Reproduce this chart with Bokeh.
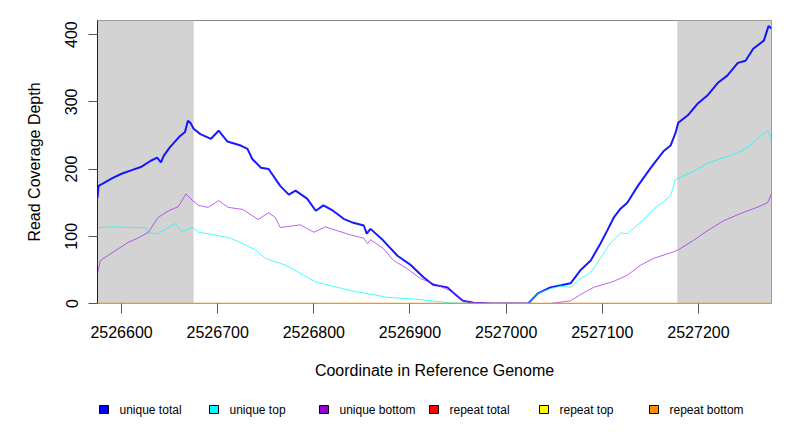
from bokeh.plotting import figure
from bokeh.layouts import column
from bokeh.models import Range1d, BoxAnnotation, FixedTicker, BasicTickFormatter, ColumnDataSource
from bokeh.core.properties import value
from bokeh.embed import file_html
from bokeh.resources import INLINE

# ---- data ----
total_pos = [2526575, 2526576, 2526580, 2526590, 2526600, 2526610, 2526620, 2526630, 2526637, 2526641,
             2526644, 2526650, 2526660, 2526666, 2526669, 2526672, 2526675, 2526682, 2526693, 2526701,
             2526710, 2526724, 2526731, 2526736, 2526745, 2526753, 2526765, 2526774, 2526781, 2526793,
             2526802, 2526810, 2526820, 2526831, 2526841, 2526852, 2526855, 2526859, 2526872, 2526887,
             2526901, 2526914, 2526924, 2526939, 2526945, 2526955, 2526966, 2526984, 2527023, 2527033,
             2527046, 2527057, 2527067, 2527077, 2527088, 2527098, 2527105, 2527112, 2527119, 2527126,
             2527137, 2527150, 2527164, 2527171, 2527176, 2527179, 2527189, 2527199, 2527209, 2527220,
             2527230, 2527241, 2527249, 2527257, 2527268, 2527273, 2527276]
total_depth = [157, 175, 178, 186, 193, 198, 203, 212, 217, 210,
               220, 232, 248, 255, 272, 268, 260, 252, 245, 257,
               241, 235, 230, 215, 202, 200, 175, 162, 168, 156,
               138, 146, 138, 126, 120, 116, 104, 111, 94, 71,
               57, 39, 28, 24, 16, 4, 1, 0, 0, 15,
               24, 27, 30, 49, 64, 89, 108, 128, 141, 150,
               175, 201, 227, 235, 253, 269, 280, 297, 309, 328,
               339, 358, 361, 379, 391, 413, 409]

top_pos = [2526575, 2526576, 2526594, 2526607, 2526625, 2526628, 2526638, 2526656, 2526663, 2526674,
           2526680, 2526698, 2526711, 2526722, 2526739, 2526750, 2526760, 2526771, 2526786, 2526802,
           2526825, 2526838, 2526859, 2526877, 2526901, 2526929, 2526942, 2526970, 2527001, 2527023,
           2527033, 2527046, 2527057, 2527067, 2527077, 2527088, 2527098, 2527108, 2527119, 2527126,
           2527140, 2527153, 2527164, 2527171, 2527176, 2527189, 2527199, 2527209, 2527220, 2527233,
           2527241, 2527251, 2527261, 2527272, 2527276]
top_depth = [113, 113, 114, 113, 113, 105, 104, 119, 107, 113,
             106, 102, 98, 92, 80, 67, 62, 57, 45, 32,
             24, 19, 14, 9, 7, 3, 1, 0, 0, 0,
             15, 22, 26, 24, 37, 46, 67, 89, 105, 104,
             121, 140, 152, 160, 184, 193, 200, 208, 214, 220,
             224, 232, 245, 257, 245]

bottom_pos = [2526575, 2526578, 2526594, 2526607, 2526618, 2526628, 2526638, 2526649, 2526659, 2526667,
              2526674, 2526680, 2526690, 2526701, 2526711, 2526726, 2526742, 2526753, 2526760, 2526765,
              2526786, 2526800, 2526812, 2526825, 2526838, 2526852, 2526856, 2526859, 2526872, 2526883,
              2526897, 2526911, 2526929, 2526942, 2526955, 2526966, 2526984, 2527046, 2527067, 2527077,
              2527091, 2527112, 2527126, 2527140, 2527153, 2527168, 2527178, 2527195, 2527209, 2527226,
              2527244, 2527261, 2527272, 2527276]
bottom_depth = [45, 64, 79, 91, 98, 106, 128, 138, 144, 163,
                153, 146, 143, 153, 143, 140, 125, 135, 128, 113,
                117, 106, 114, 108, 102, 97, 89, 95, 82, 64,
                52, 37, 27, 19, 4, 1, 0, 0, 4, 13,
                24, 33, 42, 57, 67, 74, 79, 94, 108, 123,
                134, 143, 150, 163]

repeat_pos = [2526575, 2527276]
repeat_total = [0, 0]
repeat_top = [0, 0]
repeat_bottom = [0, 0]

shade_left = [2526575, 2527178]
shade_right = [2526675, 2527276]

x_ticks = [2526600, 2526700, 2526800, 2526900, 2527000, 2527100, 2527200]
y_ticks = [0, 100, 200, 300, 400]

series_names = ["unique total", "unique top", "unique bottom", "repeat total", "repeat top", "repeat bottom"]
series_colors = ["#0000FF", "#00FFFF", "#A020F0", "#FF0000", "#FFFF00", "#FF8C00"]
legend_fill = ["#0000FF", "#00FFFF", "#9400D3", "#FF0000", "#FFFF00", "#FF8C00"]

FONT = "Liberation Sans"
W = 792
MAIN_H = 390
LEG_H = 42
FRAME_L = 97
FRAME_R = 771

p = figure(width=W, height=MAIN_H, output_backend="svg", toolbar_location=None,
           x_range=Range1d(2526575, 2527276), y_range=Range1d(0, 421),
           min_border_left=FRAME_L, min_border_right=W - FRAME_R, min_border_top=20, min_border_bottom=87)
p.xgrid.visible = False
p.ygrid.visible = False
p.outline_line_color = "#8A8A8A"
p.outline_line_width = 1
p.background_fill_color = "white"
p.border_fill_color = "white"

for l, r in zip(shade_left, shade_right):
    p.add_layout(BoxAnnotation(left=l, right=r, fill_color="#D3D3D3", fill_alpha=1.0,
                               line_color=None, level="underlay"))

p.line(total_pos, total_depth, line_color=series_colors[0], line_width=2, line_alpha=0.9)
p.line(top_pos, top_depth, line_color=series_colors[1], line_width=1, line_alpha=0.75)
p.line(bottom_pos, bottom_depth, line_color=series_colors[2], line_width=1, line_alpha=0.7)
p.line(repeat_pos, repeat_total, line_color=series_colors[3], line_width=1)
p.line(repeat_pos, repeat_top, line_color=series_colors[4], line_width=1)
p.line(repeat_pos, repeat_bottom, line_color=series_colors[5], line_width=1.5)

# axes
xa = p.xaxis[0]
xa.ticker = FixedTicker(ticks=x_ticks)
xa.formatter = BasicTickFormatter(use_scientific=False)
xa.axis_line_color = None
xa.major_tick_line_color = "#555555"
xa.major_tick_out = 10
xa.major_tick_in = 0
xa.minor_tick_line_color = None
xa.major_label_text_font = FONT
xa.major_label_text_font_size = "16px"
xa.major_label_text_color = "black"
xa.major_label_standoff = 12
xa.axis_label = "Coordinate in Reference Genome"
xa.axis_label_text_font = FONT
xa.axis_label_text_font_size = "16px"
xa.axis_label_text_font_style = "normal"
xa.axis_label_text_color = "black"
xa.axis_label_standoff = 21

ya = p.yaxis[0]
ya.ticker = FixedTicker(ticks=y_ticks)
ya.axis_line_color = "#222222"
ya.major_tick_line_color = "#555555"
ya.major_tick_out = 9
ya.major_tick_in = 0
ya.minor_tick_line_color = None
ya.major_label_orientation = "vertical"
ya.major_label_text_font = FONT
ya.major_label_text_font_size = "16px"
ya.major_label_text_color = "black"
ya.major_label_standoff = 11
ya.axis_label = "Read Coverage Depth"
ya.axis_label_text_font = FONT
ya.axis_label_text_font_size = "16px"
ya.axis_label_text_font_style = "normal"
ya.axis_label_text_color = "black"
ya.axis_label_standoff = 20

# legend strip: its frame is aligned with the main frame, so use page-pixel units
leg = figure(width=W, height=LEG_H, output_backend="svg", toolbar_location=None,
             x_range=Range1d(FRAME_L, FRAME_R), y_range=Range1d(0, LEG_H),
             x_axis_location=None, y_axis_location=None,
             min_border_left=FRAME_L, min_border_right=W - FRAME_R, min_border_top=0, min_border_bottom=0)
leg.xgrid.visible = False
leg.ygrid.visible = False
leg.outline_line_color = None
leg.background_fill_color = "white"
leg.border_fill_color = "white"

step = 110
x0 = 99
yc = LEG_H - 19
src = ColumnDataSource(dict(
    sx=[x0 + 4.5 + step * i for i in range(len(series_names))],
    tx=[x0 + 20 + step * i for i in range(len(series_names))],
    y=[yc] * len(series_names),
    color=legend_fill,
    name=series_names,
))
leg.rect(x="sx", y="y", width=9, height=8, fill_color="color", line_color="black",
         line_width=1, source=src)
leg.text(x="tx", y="y", text="name", source=src, text_font=value(FONT),
         text_font_size="12px", text_baseline="middle", text_align="left", text_color="black")

layout = column(p, leg, spacing=0)
open("out.html", "w").write(file_html(layout, INLINE))
